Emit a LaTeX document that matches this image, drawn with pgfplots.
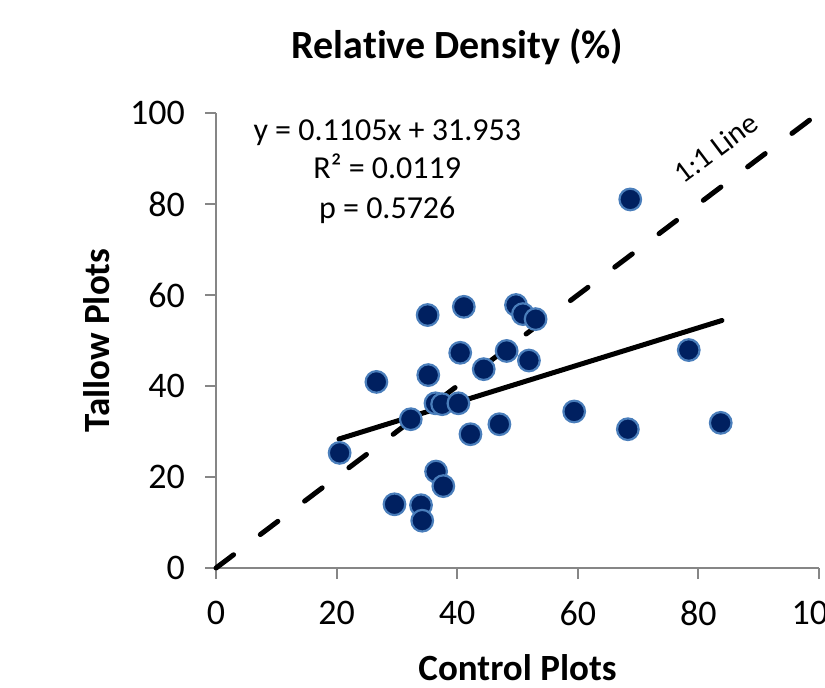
\documentclass[border=0pt]{standalone}
\usepackage{fontspec}
\setmainfont{Carlito}[Ligatures={NoCommon}]
\usepackage{pgfplots}
\pgfplotsset{compat=1.18}
\definecolor{axgray}{HTML}{868686}
\definecolor{navy}{HTML}{002060}
\definecolor{rim}{HTML}{4A7EBB}

\begin{document}
\begin{tikzpicture}
% page is cut on the right like the reference
\useasboundingbox (0,0) rectangle (412.5pt,343.5pt);
\clip (0,0) rectangle (412.5pt,343.5pt);
\begin{axis}[
  at={(108pt,59.5pt)}, anchor=south west,
  width=301.5pt, height=227.5pt, scale only axis,
  xmin=0, xmax=100, ymin=0, ymax=100,
  xtick={0,20,...,100}, ytick={0,20,...,100},
  axis lines=left,
  axis line style={draw=axgray, line width=1pt, -},
  tick align=outside, major tick length=5.5pt,
  tick style={draw=axgray, line width=1pt},
  /pgf/number format/assume math mode=true,
  tick label style={font=\fontsize{18}{21}\selectfont},
  xticklabel style={yshift=-7.5pt},
  yticklabel style={xshift=-6.5pt},
  title={Relative Density (\%)},
  title style={at={(axis description cs:0.4005,1.0945)}, anchor=base,
    font=\fontsize{20}{24}\selectfont\bfseries},
  xlabel={Control Plots},
  every axis x label/.style={at={(axis description cs:0.5,0)}, yshift=-56pt,
    anchor=base, font=\fontsize{18.5}{22}\selectfont\bfseries},
  ylabel={Tallow Plots},
  every axis y label/.style={at={(axis description cs:0,0.5)}, xshift=-53pt,
    rotate=90, anchor=base, font=\fontsize{18.5}{22}\selectfont\bfseries},
  clip=false,
]
% 1:1 line
\addplot[black, line width=2.5pt, line cap=round, dash pattern=on 11pt off 16.75pt]
  coordinates {(0,0) (100,100)};
% plots
\addplot[only marks, mark=*, mark size=5.4pt,
  mark options={fill=navy, draw=rim, line width=1.1pt}] coordinates {
  (20.5,25.3) (26.6,40.9) (29.6,14.0) (32.3,32.7) (34.0,13.8) (34.2,10.4)
  (35.1,55.6) (35.2,42.4) (36.5,21.2) (36.4,36.2) (37.5,36.0) (37.7,18.0)
  (40.2,36.2) (40.5,47.3) (41.1,57.4) (42.2,29.4) (44.4,43.7) (47.0,31.6)
  (48.2,47.7) (49.75,57.8) (50.9,55.8) (53.0,54.7) (51.9,45.6) (59.4,34.4)
  (68.3,30.5) (68.7,81.0) (78.4,47.9) (83.7,31.9)
};
% trend line
\addplot[black, line width=2.5pt, line cap=round]
  coordinates {(20.4,28.35) (83.9,54.4)};

\node[anchor=base, font=\fontsize{16}{19}\selectfont] at (axis cs:28.4,93.85) {y = 0.1105x + 31.953};
\node[anchor=base, font=\fontsize{16}{19}\selectfont] at (axis cs:28.4,85.5) {R² = 0.0119};
\node[anchor=base, font=\fontsize{16}{19}\selectfont] at (axis cs:28.4,76.9) {p = 0.5726};
\node[rotate=37, font=\fontsize{15}{18}\selectfont] at (axis cs:82.9,92.3) {1:1 Line};
\end{axis}
\end{tikzpicture}
\end{document}
